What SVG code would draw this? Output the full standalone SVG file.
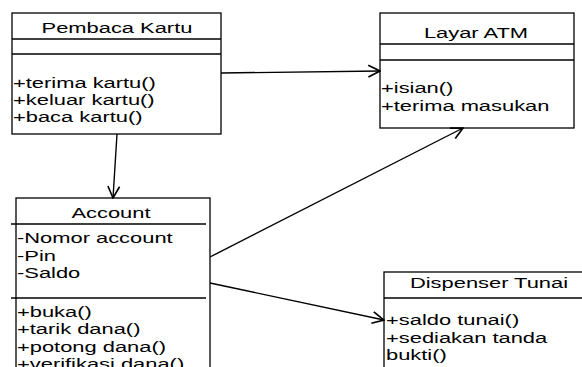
<svg xmlns="http://www.w3.org/2000/svg" width="582" height="367" viewBox="0 0 582 367">
<style>
.box{fill:#fff;stroke:#000;stroke-width:1.3}
.sep{stroke:#000;stroke-width:1.3;fill:none}
.t{font-family:"Liberation Sans",Arial,sans-serif;font-size:15px;fill:#000}
.c{text-anchor:middle}
.conn{stroke:#000;stroke-width:1.4;fill:none;marker-end:url(#open)}
</style>
<defs>
<marker id="open" markerUnits="userSpaceOnUse" markerWidth="14" markerHeight="14" viewBox="0 0 12 12" refX="11" refY="6" orient="auto">
<path d="M1,1 L11,6 L1,11" fill="none" stroke="#000" stroke-width="1.4"/>
</marker>
</defs>
<rect width="582" height="367" fill="#fff"/>
<g id="pembaca-kartu">
<rect class="box" x="12" y="13" width="209" height="121"/>
<line class="sep" x1="12" y1="39" x2="221" y2="39"/>
<line class="sep" x1="12" y1="54" x2="221" y2="54"/>
<text class="t c" transform="translate(117,33) scale(1.46,1)">Pembaca Kartu</text>
<text class="t" transform="translate(13,88) scale(1.46,1)">+terima kartu()</text>
<text class="t" transform="translate(13,105) scale(1.46,1)">+keluar kartu()</text>
<text class="t" transform="translate(13,122) scale(1.46,1)">+baca kartu()</text>
</g>
<g id="layar-atm">
<rect class="box" x="380" y="13" width="194" height="115"/>
<line class="sep" x1="380" y1="44" x2="574" y2="44"/>
<line class="sep" x1="380" y1="60" x2="574" y2="60"/>
<text class="t c" transform="translate(476,38) scale(1.46,1)">Layar ATM</text>
<text class="t" transform="translate(381,93) scale(1.46,1)">+isian()</text>
<text class="t" transform="translate(381,111) scale(1.46,1)">+terima masukan</text>
</g>
<g id="account">
<rect class="box" x="16" y="198" width="194" height="190"/>
<line class="sep" x1="11" y1="224" x2="206" y2="224"/>
<line class="sep" x1="11" y1="298" x2="206" y2="298"/>
<text class="t c" transform="translate(111,218) scale(1.46,1)">Account</text>
<text class="t" transform="translate(17,243) scale(1.46,1)">-Nomor account</text>
<text class="t" transform="translate(17,261) scale(1.46,1)">-Pin</text>
<text class="t" transform="translate(17,278) scale(1.46,1)">-Saldo</text>
<text class="t" transform="translate(17,317) scale(1.46,1)">+buka()</text>
<text class="t" transform="translate(17,334) scale(1.46,1)">+tarik dana()</text>
<text class="t" transform="translate(17,352) scale(1.46,1)">+potong dana()</text>
<text class="t" transform="translate(17,369) scale(1.46,1)">+verifikasi dana()</text>
</g>
<g id="dispenser-tunai">
<rect class="box" x="384" y="272" width="210" height="110"/>
<line class="sep" x1="384" y1="298" x2="594" y2="298"/>
<text class="t c" transform="translate(489,288) scale(1.46,1)">Dispenser Tunai</text>
<text class="t" transform="translate(386,325) scale(1.46,1)">+saldo tunai()</text>
<text class="t" transform="translate(386,343) scale(1.46,1)">+sediakan tanda</text>
<text class="t" transform="translate(386,360) scale(1.46,1)">bukti()</text>
</g>
<g id="connectors">
<line class="conn" x1="221" y1="73" x2="380" y2="71"/>
<line class="conn" x1="117" y1="134" x2="113" y2="198"/>
<line class="conn" x1="210" y1="257" x2="463" y2="128"/>
<line class="conn" x1="210" y1="283" x2="384" y2="320"/>
</g>
</svg>
